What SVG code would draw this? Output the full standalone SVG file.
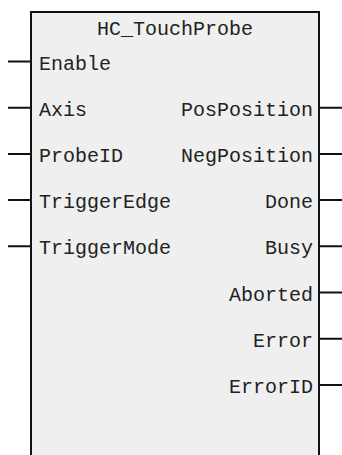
<svg xmlns="http://www.w3.org/2000/svg" width="342" height="455" viewBox="0 0 342 455">
<style>
.box{fill:#efefef;stroke:#111;stroke-width:2}
.pin{stroke:#111;stroke-width:2;fill:none}
text{font-family:"Liberation Mono","DejaVu Sans Mono",monospace;font-size:20px;fill:#222}
.r{text-anchor:end}
.c{text-anchor:middle}
</style>
<rect width="342" height="455" fill="#ffffff"/>
<g id="block">
<rect class="box" x="31" y="12" width="288" height="450"/>
<text class="c" x="175" y="35">HC_TouchProbe</text>
</g>
<g id="connectors">
<path class="pin" d="M8 61.5H31M8 107.7H31M8 153.9H31M8 200.1H31M8 246.3H31"/>
<path class="pin" d="M319 107.7H342M319 153.9H342M319 200.1H342M319 246.3H342M319 292.5H342M319 338.7H342M319 384.9H342"/>
</g>
<g id="inputs">
<text x="39" y="70">Enable</text>
<text x="39" y="116">Axis</text>
<text x="39" y="162">ProbeID</text>
<text x="39" y="208">TriggerEdge</text>
<text x="39" y="254">TriggerMode</text>
</g>
<g id="outputs">
<text class="r" x="313" y="116">PosPosition</text>
<text class="r" x="313" y="162">NegPosition</text>
<text class="r" x="313" y="208">Done</text>
<text class="r" x="313" y="254">Busy</text>
<text class="r" x="313" y="301">Aborted</text>
<text class="r" x="313" y="347">Error</text>
<text class="r" x="313" y="393">ErrorID</text>
</g>
</svg>
